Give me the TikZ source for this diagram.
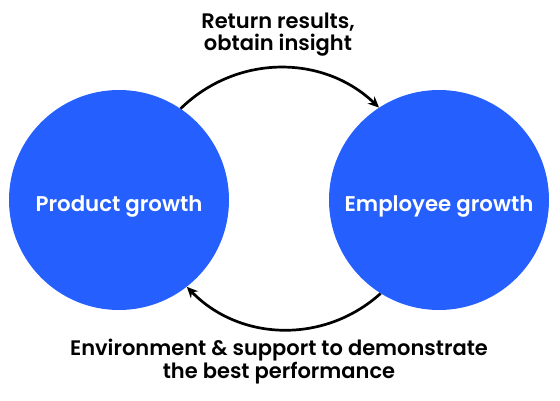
\documentclass[tikz,border=0pt]{standalone}
\usepackage{fontspec}
\setmainfont{Poppins}[BoldFont={Poppins SemiBold}]
\usetikzlibrary{arrows.meta}
\definecolor{cblue}{RGB}{37,96,255}
\begin{document}
\begin{tikzpicture}[x=1pt,y=1pt,
  bubble/.style={circle,fill=cblue,draw=none,minimum size=220pt,inner sep=0pt,
    text height=24pt,text depth=2pt,
    text=white,font=\fontsize{21.3}{25}\selectfont\bfseries},
  label/.style={align=center,font=\fontsize{21}{22.5}\selectfont\bfseries,text=black,inner sep=0pt},
  flow/.style={line width=2.7pt,-{Stealth[length=11pt,width=10pt]}}]
\useasboundingbox (0,0) rectangle (560,400);
\node[bubble] (P) at (119,200) {Product growth};
\node[bubble] (E) at (439,200) {Employee growth};
\draw[flow] (P.56) to[bend left=44] (E.123);
\draw[flow] (E.238) to[bend left=44] (P.-52);
\node[label,anchor=base] (T) at (278,349) {Return results,\\obtain insight};
\node[label,anchor=base] (B) at (279,22) {Environment \& support to demonstrate\\the best performance};
\end{tikzpicture}
\end{document}
